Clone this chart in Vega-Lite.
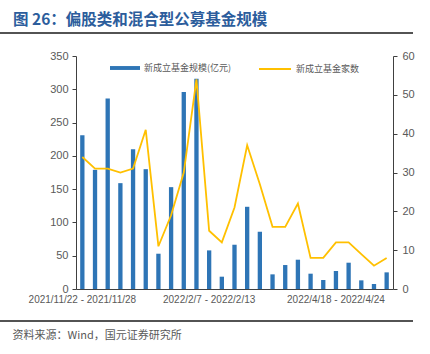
{
  "$schema": "https://vega.github.io/schema/vega-lite/v6.json",
  "autosize": {"type": "none"},
  "padding": {"left": 0, "top": 33, "right": 17, "bottom": 33},
  "width": 413,
  "height": 288,
  "background": "white",
  "config": {"view": {"stroke": null}, "font": "Liberation Sans"},
  "title": {"text": "图 26：偏股类和混合型公募基金规模", "anchor": "start", "frame": "group", "dx": 13, "dy": 16, "offset": 8, "baseline": "alphabetic", "font": "Noto Sans CJK SC", "fontSize": 15.5, "fontWeight": "bold", "color": "#2c5d9c"},
  "datasets": {
    "weekly": [
      {"week": "2021/11/22 - 2021/11/28", "scale": 231, "count": 34},
      {"week": "2021/11/29 - 2021/12/5", "scale": 179, "count": 31},
      {"week": "2021/12/6 - 2021/12/12", "scale": 286, "count": 31},
      {"week": "2021/12/13 - 2021/12/19", "scale": 159, "count": 30},
      {"week": "2021/12/20 - 2021/12/26", "scale": 210, "count": 31},
      {"week": "2021/12/27 - 2022/1/2", "scale": 180, "count": 41},
      {"week": "2022/1/3 - 2022/1/9", "scale": 53, "count": 11},
      {"week": "2022/1/10 - 2022/1/16", "scale": 153, "count": 19},
      {"week": "2022/1/17 - 2022/1/23", "scale": 296, "count": 30},
      {"week": "2022/1/24 - 2022/1/30", "scale": 316, "count": 54},
      {"week": "2022/2/7 - 2022/2/13", "scale": 58, "count": 15},
      {"week": "2022/2/14 - 2022/2/20", "scale": 18.5, "count": 12},
      {"week": "2022/2/21 - 2022/2/27", "scale": 66.5, "count": 21},
      {"week": "2022/2/28 - 2022/3/6", "scale": 123.5, "count": 37},
      {"week": "2022/3/7 - 2022/3/13", "scale": 86, "count": 27},
      {"week": "2022/3/14 - 2022/3/20", "scale": 22, "count": 16},
      {"week": "2022/3/21 - 2022/3/27", "scale": 36, "count": 16},
      {"week": "2022/3/28 - 2022/4/3", "scale": 44, "count": 22},
      {"week": "2022/4/4 - 2022/4/10", "scale": 23, "count": 8},
      {"week": "2022/4/11 - 2022/4/17", "scale": 13.5, "count": 8},
      {"week": "2022/4/18 - 2022/4/24", "scale": 27, "count": 12},
      {"week": "2022/4/25 - 2022/5/1", "scale": 39.5, "count": 12},
      {"week": "2022/5/2 - 2022/5/8", "scale": 13, "count": 9},
      {"week": "2022/5/9 - 2022/5/15", "scale": 7.5, "count": 6},
      {"week": "2022/5/16 - 2022/5/22", "scale": 25, "count": 8}
    ]
  },
  "layer": [
    {
      "data": {"name": "weekly"},
      "mark": {"type": "bar"},
      "encoding": {
        "x": {"field": "week", "type": "ordinal", "sort": null,
          "scale": {"paddingInner": 0.66, "paddingOuter": 0.33, "range": [76, 393]},
          "axis": {"orient": "bottom", "values": ["2021/11/22 - 2021/11/28", "2022/2/7 - 2022/2/13", "2022/4/18 - 2022/4/24"],
            "offset": -32, "labelAngle": 0, "ticks": false, "domainColor": "#404040", "labelColor": "#595959",
            "labelFontSize": 10, "labelFont": "Liberation Sans", "labelPadding": 5,
            "title": "资料来源：Wind，国元证券研究所", "titleX": 12, "titleY": 49, "titleAlign": "left",
            "titleBaseline": "alphabetic", "titleFont": "Noto Sans CJK SC", "titleFontSize": 11,
            "titleFontWeight": "normal", "titleColor": "#595959"}},
        "y": {"field": "scale", "type": "quantitative", "scale": {"domain": [0, 350], "nice": false, "range": [256, 23]},
          "axis": {"orient": "left", "offset": -76, "values": [0, 50, 100, 150, 200, 250, 300, 350], "grid": false, "title": null,
            "domainColor": "#404040", "tickColor": "#404040", "tickSize": 4, "labelPadding": 4,
            "labelColor": "#595959", "labelFontSize": 11, "labelFont": "Liberation Sans"}},
        "color": {"datum": "新成立基金规模(亿元)", "type": "nominal", "scale": {"range": ["#2e75b6"]},
          "legend": {"orient": "none", "legendX": 110, "legendY": 20, "title": null, "padding": 0,
            "symbolType": "M-1,-0.13H1V0.13H-1Z", "symbolSize": 900, "symbolStrokeWidth": 0,
            "labelFont": "Noto Sans CJK SC", "labelFontSize": 9, "labelColor": "#595959", "labelOffset": 4}}
      }
    },
    {
      "data": {"name": "weekly"},
      "mark": {"type": "line", "strokeWidth": 1.8},
      "encoding": {
        "x": {"field": "week", "type": "ordinal", "sort": null,
          "scale": {"paddingInner": 0.66, "paddingOuter": 0.33, "range": [76, 393]}, "axis": null},
        "y": {"field": "count", "type": "quantitative", "scale": {"domain": [0, 60], "nice": false, "range": [256, 23]},
          "axis": {"orient": "right", "offset": -20, "values": [0, 10, 20, 30, 40, 50, 60], "grid": false, "title": null,
            "domainColor": "#404040", "tickColor": "#404040", "tickSize": 4, "labelPadding": 5,
            "labelColor": "#595959", "labelFontSize": 11, "labelFont": "Liberation Sans"}},
        "stroke": {"datum": "新成立基金家数", "type": "nominal", "scale": {"range": ["#ffc000"]},
          "legend": {"orient": "none", "legendX": 258, "legendY": 19, "title": null, "padding": 0,
            "symbolType": "stroke", "symbolSize": 1024, "symbolStrokeWidth": 2,
            "labelFont": "Noto Sans CJK SC", "labelFontSize": 9, "labelColor": "#595959", "labelOffset": 4}}
      }
    },
    {
      "data": {"values": [{"k": 0}]},
      "mark": {"type": "tick", "orient": "horizontal", "size": 413, "thickness": 1.6, "color": "#1a1a1a", "opacity": 1},
      "encoding": {
        "x": {"datum": 0.5, "type": "quantitative", "scale": {"domain": [0, 1]}, "axis": null},
        "y": {"datum": 1, "type": "quantitative", "scale": {"domain": [0, 1]}, "axis": null}
      }
    },
    {
      "data": {"values": [{"k": 0}]},
      "mark": {"type": "tick", "orient": "horizontal", "size": 413, "thickness": 1.6, "color": "#1a1a1a", "opacity": 1},
      "encoding": {
        "x": {"datum": 0.5, "type": "quantitative", "scale": {"domain": [0, 1]}, "axis": null},
        "y": {"datum": 0, "type": "quantitative", "scale": {"domain": [0, 1]}, "axis": null}
      }
    }
  ],
  "resolve": {"scale": {"x": "independent", "y": "independent"}}
}
